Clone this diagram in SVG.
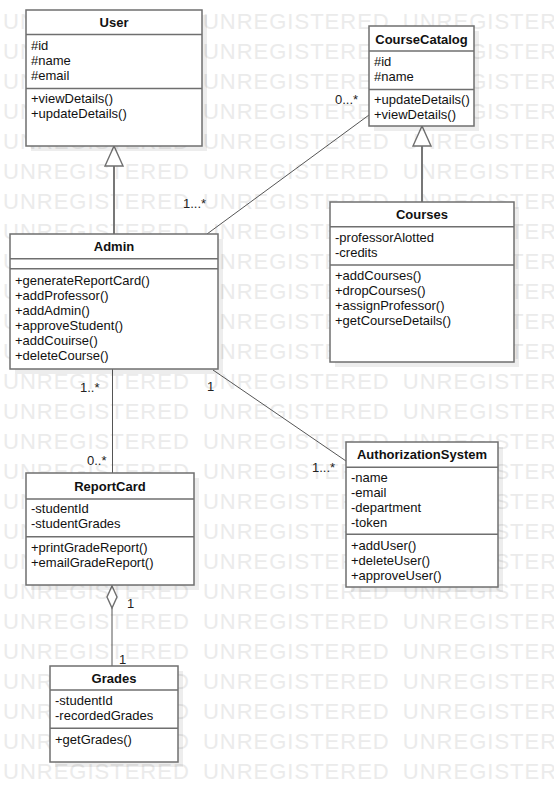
<svg xmlns="http://www.w3.org/2000/svg" width="554" height="802" viewBox="0 0 554 802">
  <style>
    .wm { font-family: "Liberation Sans", Arial, sans-serif; font-size: 22px; fill: #ebebeb; letter-spacing: 1px; word-spacing: 6px; }
    .shadow { fill: #000; fill-opacity: 0.07; }
    .box { fill: #fff; stroke: #6f6f6f; stroke-width: 1.5; }
    .sep { stroke: #6f6f6f; stroke-width: 1.4; }
    .title { font-family: "Liberation Sans", Arial, sans-serif; font-size: 13px; font-weight: bold; fill: #111; text-anchor: middle; }
    .mem { font-family: "Liberation Sans", Arial, sans-serif; font-size: 13px; fill: #111; }
    .assoc { stroke: #555; stroke-width: 1; fill: none; }
    .gen { stroke: #777; stroke-width: 2; fill: none; }
    .head { fill: #fff; stroke: #6f6f6f; stroke-width: 1.4; }
    .lbl { font-family: "Liberation Sans", Arial, sans-serif; font-size: 13px; fill: #222; }
  </style>

  <rect width="554" height="802" fill="#fff"/>

  <!-- background watermark rows -->
  <g id="watermark">
    <text class="wm" x="3" y="28.5">UNREGISTERED UNREGISTERED UNREGISTERED</text>
    <text class="wm" x="3" y="58.5">UNREGISTERED UNREGISTERED UNREGISTERED</text>
    <text class="wm" x="3" y="88.5">UNREGISTERED UNREGISTERED UNREGISTERED</text>
    <text class="wm" x="3" y="118.5">UNREGISTERED UNREGISTERED UNREGISTERED</text>
    <text class="wm" x="3" y="148.5">UNREGISTERED UNREGISTERED UNREGISTERED</text>
    <text class="wm" x="3" y="178.5">UNREGISTERED UNREGISTERED UNREGISTERED</text>
    <text class="wm" x="3" y="208.5">UNREGISTERED UNREGISTERED UNREGISTERED</text>
    <text class="wm" x="3" y="238.5">UNREGISTERED UNREGISTERED UNREGISTERED</text>
    <text class="wm" x="3" y="268.5">UNREGISTERED UNREGISTERED UNREGISTERED</text>
    <text class="wm" x="3" y="298.5">UNREGISTERED UNREGISTERED UNREGISTERED</text>
    <text class="wm" x="3" y="328.5">UNREGISTERED UNREGISTERED UNREGISTERED</text>
    <text class="wm" x="3" y="358.5">UNREGISTERED UNREGISTERED UNREGISTERED</text>
    <text class="wm" x="3" y="388.5">UNREGISTERED UNREGISTERED UNREGISTERED</text>
    <text class="wm" x="3" y="418.5">UNREGISTERED UNREGISTERED UNREGISTERED</text>
    <text class="wm" x="3" y="448.5">UNREGISTERED UNREGISTERED UNREGISTERED</text>
    <text class="wm" x="3" y="478.5">UNREGISTERED UNREGISTERED UNREGISTERED</text>
    <text class="wm" x="3" y="508.5">UNREGISTERED UNREGISTERED UNREGISTERED</text>
    <text class="wm" x="3" y="538.5">UNREGISTERED UNREGISTERED UNREGISTERED</text>
    <text class="wm" x="3" y="568.5">UNREGISTERED UNREGISTERED UNREGISTERED</text>
    <text class="wm" x="3" y="598.5">UNREGISTERED UNREGISTERED UNREGISTERED</text>
    <text class="wm" x="3" y="628.5">UNREGISTERED UNREGISTERED UNREGISTERED</text>
    <text class="wm" x="3" y="658.5">UNREGISTERED UNREGISTERED UNREGISTERED</text>
    <text class="wm" x="3" y="688.5">UNREGISTERED UNREGISTERED UNREGISTERED</text>
    <text class="wm" x="3" y="718.5">UNREGISTERED UNREGISTERED UNREGISTERED</text>
    <text class="wm" x="3" y="748.5">UNREGISTERED UNREGISTERED UNREGISTERED</text>
    <text class="wm" x="3" y="778.5">UNREGISTERED UNREGISTERED UNREGISTERED</text>
  </g>

  <!-- connectors -->
  <g id="connectors">
    <!-- Admin generalizes User -->
    <line class="gen" x1="114" y1="234" x2="114" y2="166"/>
    <polygon class="head" points="114,146 105,166 123,166"/>
    <!-- Courses generalizes CourseCatalog -->
    <line class="gen" x1="422" y1="202" x2="422" y2="146"/>
    <polygon class="head" points="422,126 413,146 431,146"/>
    <!-- CourseCatalog - Admin -->
    <line class="assoc" x1="369" y1="115" x2="207" y2="234"/>
    <text class="lbl" x="335" y="104">0...*</text>
    <text class="lbl" x="183" y="208">1...*</text>
    <!-- Admin - ReportCard -->
    <line class="assoc" x1="112.5" y1="369" x2="112.5" y2="473"/>
    <text class="lbl" x="80" y="392">1..*</text>
    <text class="lbl" x="87" y="465">0..*</text>
    <!-- Admin - AuthorizationSystem -->
    <line class="assoc" x1="213" y1="370" x2="346" y2="461"/>
    <text class="lbl" x="207" y="391">1</text>
    <text class="lbl" x="312" y="472">1...*</text>
    <!-- ReportCard aggregates Grades -->
    <line class="assoc" x1="112" y1="608" x2="112" y2="666"/>
    <polygon class="head" points="112,586 117,597 112,608 107,597"/>
    <text class="lbl" x="127" y="608">1</text>
    <text class="lbl" x="119" y="664">1</text>
  </g>

  <!-- classes -->
  <g id="User">
    <rect class="shadow" x="31" y="15" width="176" height="136"/>
    <rect class="box" x="26" y="10" width="176" height="136"/>
    <line class="sep" x1="26" y1="34.5" x2="202" y2="34.5"/>
    <line class="sep" x1="26" y1="88.5" x2="202" y2="88.5"/>
    <text class="title" x="114" y="27">User</text>
    <text class="mem" x="31" y="50">#id</text>
    <text class="mem" x="31" y="65">#name</text>
    <text class="mem" x="31" y="80">#email</text>
    <text class="mem" x="31" y="102.5">+viewDetails()</text>
    <text class="mem" x="31" y="117.5">+updateDetails()</text>
  </g>

  <g id="CourseCatalog">
    <rect class="shadow" x="374" y="31" width="105" height="100"/>
    <rect class="box" x="369" y="26" width="105" height="100"/>
    <line class="sep" x1="369" y1="51" x2="474" y2="51"/>
    <line class="sep" x1="369" y1="89.5" x2="474" y2="89.5"/>
    <text class="title" x="421.5" y="43.5">CourseCatalog</text>
    <text class="mem" x="374" y="66">#id</text>
    <text class="mem" x="374" y="81">#name</text>
    <text class="mem" x="374" y="104">+updateDetails()</text>
    <text class="mem" x="374" y="119">+viewDetails()</text>
  </g>

  <g id="Admin">
    <rect class="shadow" x="15" y="239" width="208" height="135"/>
    <rect class="box" x="10" y="234" width="208" height="135"/>
    <line class="sep" x1="10" y1="258.7" x2="218" y2="258.7"/>
    <line class="sep" x1="10" y1="268.7" x2="218" y2="268.7"/>
    <text class="title" x="114" y="251">Admin</text>
    <text class="mem" x="15" y="285">+generateReportCard()</text>
    <text class="mem" x="15" y="300">+addProfessor()</text>
    <text class="mem" x="15" y="315">+addAdmin()</text>
    <text class="mem" x="15" y="330">+approveStudent()</text>
    <text class="mem" x="15" y="345">+addCouirse()</text>
    <text class="mem" x="15" y="359.5">+deleteCourse()</text>
  </g>

  <g id="Courses">
    <rect class="shadow" x="335" y="207" width="184" height="160"/>
    <rect class="box" x="330" y="202" width="184" height="160"/>
    <line class="sep" x1="330" y1="226.7" x2="514" y2="226.7"/>
    <line class="sep" x1="330" y1="265" x2="514" y2="265"/>
    <text class="title" x="422" y="219">Courses</text>
    <text class="mem" x="335" y="242">-professorAlotted</text>
    <text class="mem" x="335" y="257">-credits</text>
    <text class="mem" x="335" y="280">+addCourses()</text>
    <text class="mem" x="335" y="295">+dropCourses()</text>
    <text class="mem" x="335" y="310">+assignProfessor()</text>
    <text class="mem" x="335" y="325">+getCourseDetails()</text>
  </g>

  <g id="ReportCard">
    <rect class="shadow" x="31" y="478" width="168" height="112"/>
    <rect class="box" x="26" y="473" width="168" height="112"/>
    <line class="sep" x1="26" y1="499" x2="194" y2="499"/>
    <line class="sep" x1="26" y1="536.7" x2="194" y2="536.7"/>
    <text class="title" x="110" y="490.5">ReportCard</text>
    <text class="mem" x="31" y="512.5">-studentId</text>
    <text class="mem" x="31" y="527.5">-studentGrades</text>
    <text class="mem" x="31" y="551.5">+printGradeReport()</text>
    <text class="mem" x="31" y="566.5">+emailGradeReport()</text>
  </g>

  <g id="Grades">
    <rect class="shadow" x="55" y="671" width="128" height="96"/>
    <rect class="box" x="50" y="666" width="128" height="96"/>
    <line class="sep" x1="50" y1="690" x2="178" y2="690"/>
    <line class="sep" x1="50" y1="728.3" x2="178" y2="728.3"/>
    <text class="title" x="114" y="683">Grades</text>
    <text class="mem" x="55" y="705">-studentId</text>
    <text class="mem" x="55" y="720">-recordedGrades</text>
    <text class="mem" x="55" y="743.5">+getGrades()</text>
  </g>

  <g id="AuthorizationSystem">
    <rect class="shadow" x="351" y="447" width="152" height="145"/>
    <rect class="box" x="346" y="442" width="152" height="145"/>
    <line class="sep" x1="346" y1="467.3" x2="498" y2="467.3"/>
    <line class="sep" x1="346" y1="534.3" x2="498" y2="534.3"/>
    <text class="title" x="422" y="458.5">AuthorizationSystem</text>
    <text class="mem" x="351" y="482">-name</text>
    <text class="mem" x="351" y="497">-email</text>
    <text class="mem" x="351" y="512">-department</text>
    <text class="mem" x="351" y="527">-token</text>
    <text class="mem" x="351" y="549.5">+addUser()</text>
    <text class="mem" x="351" y="564.5">+deleteUser()</text>
    <text class="mem" x="351" y="579.5">+approveUser()</text>
  </g>
</svg>
